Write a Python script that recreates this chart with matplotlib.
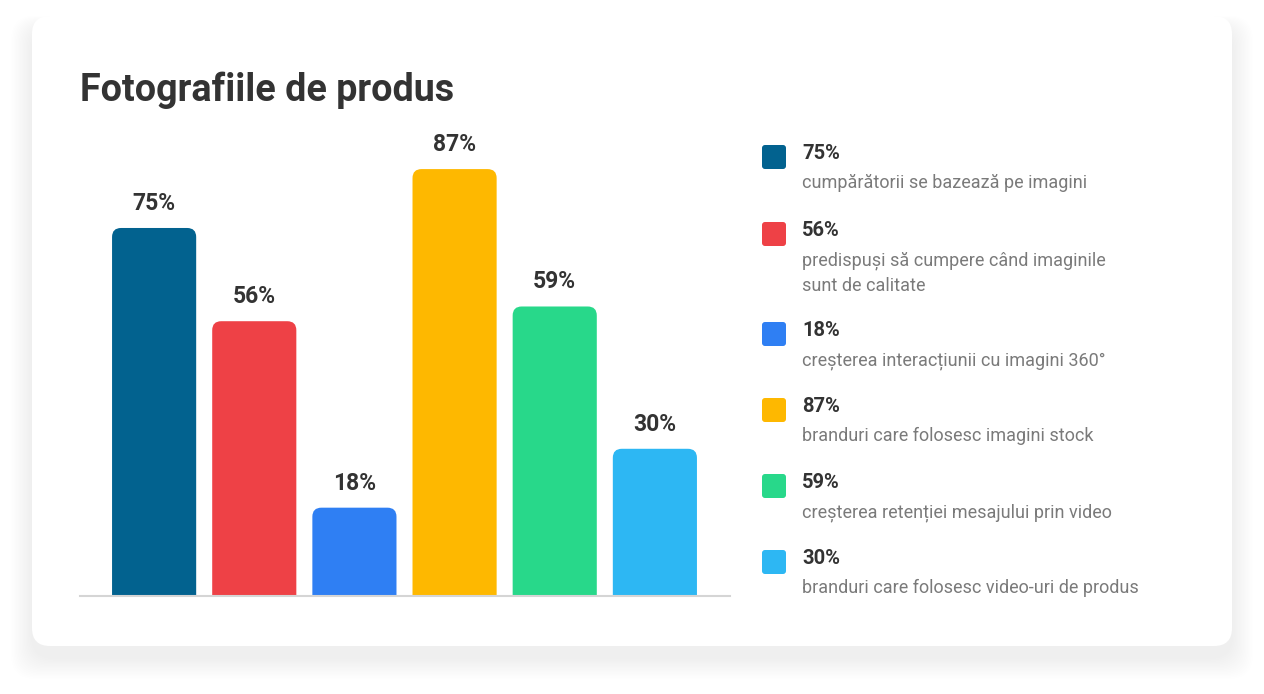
import matplotlib.pyplot as plt
from matplotlib.patches import FancyBboxPatch

plt.rcParams['font.family'] = ['Roboto', 'DejaVu Sans']

# Chart data.
title = "Fotografiile de produs"
values = [75, 56, 18, 87, 59, 30]
labels = ["75%", "56%", "18%", "87%", "59%", "30%"]
descriptions = [
    ["cumpărătorii se bazează pe imagini"],
    ["predispuși să cumpere când imaginile", "sunt de calitate"],
    ["creșterea interacțiunii cu imagini 360°"],
    ["branduri care folosesc imagini stock"],
    ["creșterea retenției mesajului prin video"],
    ["branduri care folosesc video-uri de produs"],
]
colors = ["#02628F", "#EE4146", "#2F7FF3", "#FEB800", "#28D88A", "#2DB7F3"]

W, H = 1264, 694
dark = "#333333"
grey_text = "#7A7A7A"


def fx(px):
    return px / W


def fy(py):
    return 1 - py / H


fig = plt.figure(figsize=(W / 100, H / 100), dpi=100)
fig.patch.set_facecolor("white")

# Background layer in pixel coordinates for the card and its shadow.
bg = fig.add_axes([0, 0, 1, 1])
bg.set_xlim(0, W)
bg.set_ylim(H, 0)
bg.axis("off")

for k in range(16):
    grow = 2 + k * 2.2
    bg.add_patch(FancyBboxPatch((32 - grow * 0.6, 16 + 12 - grow * 0.35), 1200 + grow * 1.2, 630 + grow * 0.95,
                                boxstyle="round,pad=0,rounding_size=24",
                                facecolor="black", edgecolor="none", alpha=0.0024))
bg.add_patch(FancyBboxPatch((32, 16), 1200, 630, boxstyle="round,pad=0,rounding_size=18",
                            facecolor="white", edgecolor="none"))

fig.text(fx(80), fy(101), title, fontsize=27.2, fontweight="bold", color=dark, va="baseline", ha="left")

# Bar chart area.
px_per_unit = 4.907
ax_left, ax_right, ax_bottom, ax_top = 80, 730, 596, 116
ax = fig.add_axes([fx(ax_left), fy(ax_bottom), fx(ax_right - ax_left), (ax_bottom - ax_top) / H])
ax.patch.set_visible(False)
ax.set_xlim(-0.74, 5.75)
ax.set_ylim(0, (ax_bottom - ax_top) / px_per_unit)
ax.axis("off")

x = list(range(len(values)))
bars = ax.bar(x, values, width=0.84, color=colors)
radius_px = 9
aspect = 100 / px_per_unit
for bar, color, label in zip(bars, colors, labels):
    bx, bw, bh = bar.get_x(), bar.get_width(), bar.get_height()
    bar.set_visible(False)
    ax.add_patch(FancyBboxPatch((bx, -5), bw, bh + 5,
                                boxstyle=f"round,pad=0,rounding_size={radius_px / 100}",
                                mutation_aspect=aspect, facecolor=color, edgecolor="none"))
    ax.annotate(label, (bx + bw / 2, bh), xytext=(0, 18), textcoords="offset pixels",
                ha="center", va="baseline", fontsize=16.5, fontweight="bold", color=dark)

ax.axhline(0, color="#D5D5D5", linewidth=1.5, clip_on=False, zorder=5)

# Legend.
square_tops = [145, 222, 322, 398, 474, 550]
for top, color, label, desc in zip(square_tops, colors, labels, descriptions):
    bg.add_patch(FancyBboxPatch((762, top), 24, 24, boxstyle="round,pad=0,rounding_size=3",
                                facecolor=color, edgecolor="none"))
    fig.text(fx(802), fy(top + 14), label, fontsize=14.5, fontweight="bold", color=dark,
             va="baseline", ha="left")
    for i, line in enumerate(desc):
        fig.text(fx(802), fy(top + 43 + i * 26), line, fontsize=13, color=grey_text,
                 va="baseline", ha="left")

fig.savefig("out.png", dpi=100)
